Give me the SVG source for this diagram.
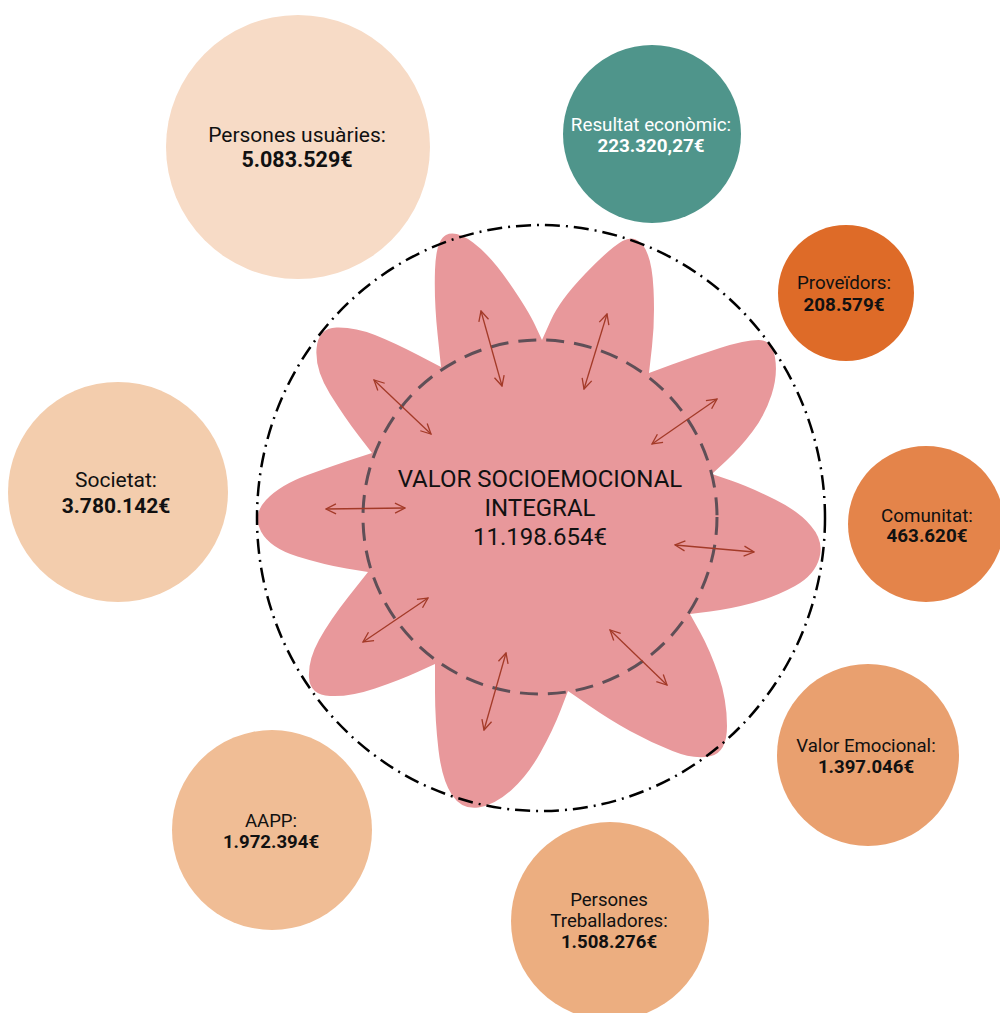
<svg xmlns="http://www.w3.org/2000/svg" width="1000" height="1013" viewBox="0 0 1000 1013">
<defs>
<style>
.lbl{font-family:Roboto,"Liberation Sans",sans-serif;fill:#111;text-anchor:middle}
.b{font-weight:bold}
.arr{stroke:#A33A28;stroke-width:1.3;fill:none;marker-start:url(#ah);marker-end:url(#ah)}
</style>
<marker id="ah" viewBox="0 0 12 12" refX="11" refY="6" markerWidth="12" markerHeight="12" markerUnits="userSpaceOnUse" orient="auto-start-reverse">
<path d="M1,1 L11,6 L1,11" fill="none" stroke="#A33A28" stroke-width="1.3"/>
</marker>
</defs>
<rect width="1000" height="1013" fill="#fff"/>

<g id="flower">
<path fill="#E8989B" d="M441,367 L437.5,333.5 Q434,300 435,270 Q436,240 446,235 Q456,230 473,242.5 Q490,255 509,282.5 Q528,310 535,325 L542,340
L551,320 Q560,300 585,274 Q610,248 622.5,241 Q635,234 643.5,246 Q652,258 653.5,289 Q655,320 652,346.5 L649,373
L672,364.5 Q695,356 720,348 Q745,340 758.5,340 Q772,340 775,357.5 Q778,375 771.5,395 Q765,415 752.5,431.5 Q740,448 726,461 L712,474
L731,480.5 Q750,487 775,499.5 Q800,512 811,526 Q824,541 819.5,557.5 Q815,575 795,586 Q775,597 752.5,603 Q730,609 710,611.5 L690,614
L700,632 Q710,650 718.5,675 Q727,700 727,726 Q727,752 711,756 Q695,760 672.5,751 Q650,742 630,731 Q610,720 589,705.5 L568,691
L560.5,710.5 Q553,730 540.5,752.5 Q528,775 511.5,790 Q495,805 478.5,807.5 Q462,810 452,795 Q442,780 438.5,750 Q435,720 435,692 L435,664
L417.5,672 Q400,680 375,688.5 Q350,697 330,696 Q310,695 309,677.5 Q308,660 319,640 Q330,620 349,596 L368,572
L346.5,568.5 Q325,565 297.5,556.5 Q270,548 261,531.5 Q252,515 266,500 Q280,485 307.5,475 Q335,465 353.5,459 L372,453
L358.5,435.5 Q345,418 330,394 Q315,370 316.5,349 Q318,328 336.5,327.5 Q355,327 375,335 Q395,343 418,355 Z"/>
</g>

<g id="outer-ring">
<ellipse cx="541" cy="518" rx="284" ry="293" fill="none" stroke="#000" stroke-width="2.5" stroke-dasharray="15 6 2 6"/>
</g>
<g id="inner-ring">
<circle cx="540" cy="517" r="177" fill="none" stroke="#5F4F57" stroke-width="3" stroke-dasharray="18 10"/>
</g>

<g id="connectors">
<line class="arr" x1="481" y1="311" x2="502" y2="386"/>
<line class="arr" x1="607" y1="314" x2="584" y2="389"/>
<line class="arr" x1="374" y1="380" x2="431" y2="434"/>
<line class="arr" x1="717" y1="399" x2="652" y2="444"/>
<line class="arr" x1="326" y1="509" x2="405" y2="508"/>
<line class="arr" x1="675" y1="545" x2="754" y2="552"/>
<line class="arr" x1="363" y1="642" x2="428" y2="598"/>
<line class="arr" x1="610" y1="630" x2="667" y2="685"/>
<line class="arr" x1="506" y1="653" x2="484" y2="730"/>
</g>

<g id="center-label">
<text class="lbl" x="540" y="487" font-size="24">VALOR SOCIOEMOCIONAL</text>
<text class="lbl" x="540" y="516" font-size="24">INTEGRAL</text>
<text class="lbl" x="540" y="545" font-size="24">11.198.654€</text>
</g>

<g id="persones-usuaries">
<circle cx="298" cy="147" r="132" fill="#F7DBC6"/>
<text class="lbl" x="297" y="142" font-size="21">Persones usuàries:</text>
<text class="lbl b" x="297" y="167" font-size="21.5">5.083.529€</text>
</g>

<g id="resultat-economic">
<circle cx="652" cy="134" r="89" fill="#4F958B"/>
<text class="lbl" x="651" y="131" font-size="18.8" style="fill:#fff">Resultat econòmic:</text>
<text class="lbl b" x="651" y="152" font-size="18.8" style="fill:#fff">223.320,27€</text>
</g>

<g id="proveidors">
<circle cx="846" cy="293" r="68" fill="#DE6B28"/>
<text class="lbl" x="844" y="289" font-size="18.8">Proveïdors:</text>
<text class="lbl b" x="844" y="311" font-size="18.8">208.579€</text>
</g>

<g id="comunitat">
<circle cx="926" cy="524" r="78" fill="#E4844A"/>
<text class="lbl" x="927" y="522" font-size="18.8">Comunitat:</text>
<text class="lbl b" x="927" y="542" font-size="18.8">463.620€</text>
</g>

<g id="valor-emocional">
<circle cx="868" cy="755" r="91" fill="#E9A06F"/>
<text class="lbl" x="866" y="752" font-size="18.6">Valor Emocional:</text>
<text class="lbl b" x="866" y="773" font-size="18.6">1.397.046€</text>
</g>

<g id="persones-treballadores">
<circle cx="610" cy="921" r="99" fill="#ECAE80"/>
<text class="lbl" x="609" y="906" font-size="18.6">Persones</text>
<text class="lbl" x="609" y="927" font-size="18.6">Treballadores:</text>
<text class="lbl b" x="609" y="948" font-size="18.6">1.508.276€</text>
</g>

<g id="aapp">
<circle cx="272" cy="830" r="100" fill="#F0BD95"/>
<text class="lbl" x="271" y="827" font-size="18.6">AAPP:</text>
<text class="lbl b" x="271" y="848" font-size="18.6">1.972.394€</text>
</g>

<g id="societat">
<circle cx="118" cy="492" r="110" fill="#F3CDAD"/>
<text class="lbl" x="116" y="487" font-size="21">Societat:</text>
<text class="lbl b" x="116" y="513" font-size="21">3.780.142€</text>
</g>
</svg>
